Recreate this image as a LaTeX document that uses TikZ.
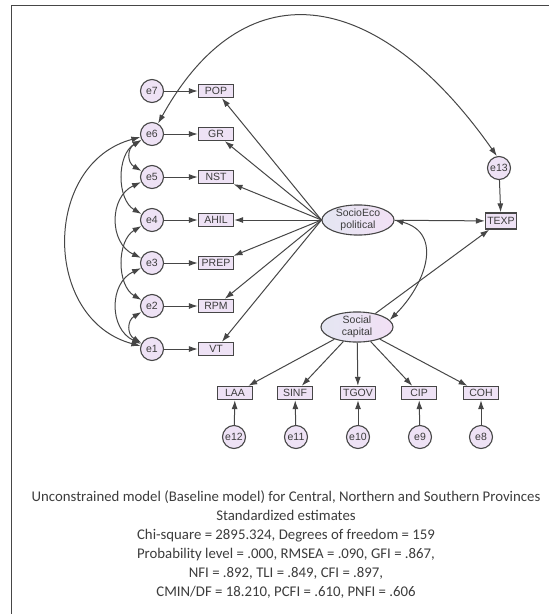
\documentclass[tikz,border=0pt]{standalone}
\usepackage{fontspec}
\setmainfont{Liberation Sans}
\newfontfamily\capfont{Carlito}
\usetikzlibrary{arrows.meta,shapes.geometric}

\definecolor{boxfill}{RGB}{238,226,245}
\definecolor{ovalleft}{RGB}{228,230,242}
\definecolor{ovalright}{RGB}{242,224,245}
\definecolor{linegray}{RGB}{70,70,70}
\definecolor{textgray}{RGB}{60,60,60}

\begin{document}
\begin{tikzpicture}[x=1pt, y=1pt, >={Latex[length=9pt,width=6pt]},
    obs/.style={draw=linegray, line width=1.3pt, fill=boxfill, minimum width=35pt,
      minimum height=13pt, inner sep=0.5pt, text=textgray, font=\fontsize{10.5}{11}\selectfont},
    err/.style={circle, draw=linegray, line width=1.1pt, fill=boxfill, minimum size=23pt,
      inner sep=0pt, text=textgray, font=\fontsize{10.5}{11}\selectfont},
    lat/.style={ellipse, draw=linegray, line width=1.1pt, left color=ovalleft, right color=ovalright,
      minimum width=72pt, minimum height=29pt, inner sep=0pt, align=center, text=textgray,
      font=\fontsize{10.5}{11.5}\selectfont},
    path/.style={->, draw=linegray, line width=1pt},
    cov/.style={<->, draw=linegray, line width=1pt}]
    \useasboundingbox (0,0) rectangle (549,-614);

    % rahmen
    \draw[linegray, line width=1pt] (11,-614) -- (11,-5) -- (549,-5);

    % linke seite: fehler und indikatoren
    \node[err] (e7) at (152,-91) {e7};
    \node[err] (e6) at (152,-134) {e6};
    \node[err] (e5) at (152,-177) {e5};
    \node[err] (e4) at (152,-220) {e4};
    \node[err] (e3) at (152,-263) {e3};
    \node[err] (e2) at (152,-306) {e2};
    \node[err] (e1) at (152,-349) {e1};

    \node[obs] (POP) at (216,-91) {POP};
    \node[obs] (GR) at (216,-134) {GR};
    \node[obs] (NST) at (216,-177) {NST};
    \node[obs] (AHIL) at (216,-220) {AHIL};
    \node[obs] (PREP) at (216,-263) {PREP};
    \node[obs] (RPM) at (216,-306) {RPM};
    \node[obs] (VT) at (216,-349) {VT};

    % latente variablen
    \node[lat] (soc) at (358,-220) {SocioEco\\political};
    \node[lat] (scap) at (357,-327) {Social\\capital};

    % abhaengige variable
    \node[err] (e13) at (499,-168) {e13};
    \node[obs, minimum width=31pt, minimum height=16pt] (TEXP) at (501,-221) {TEXP};

    % untere reihe
    \node[obs] (LAA) at (235,-393) {LAA};
    \node[obs] (SINF) at (295,-393) {SINF};
    \node[obs] (TGOV) at (358,-393) {TGOV};
    \node[obs] (CIP) at (419,-393) {CIP};
    \node[obs] (COH) at (481,-393) {COH};

    \node[err] (e12) at (234,-437) {e12};
    \node[err] (e11) at (296,-437) {e11};
    \node[err] (e10) at (358,-437) {e10};
    \node[err] (e9) at (420,-437) {e9};
    \node[err] (e8) at (481,-437) {e8};

    % fehlerpfeile
    \foreach \e/\v in {e7/POP, e6/GR, e5/NST, e4/AHIL, e3/PREP, e2/RPM, e1/VT,
                       e12/LAA, e11/SINF, e10/TGOV, e9/CIP, e8/COH, e13/TEXP}
      \draw[path] (\e) -- (\v);

    % ladungen
    \foreach \v in {POP, GR, NST, AHIL, PREP, RPM, VT}
      \draw[path] (soc.west) -- (\v);
    \foreach \v in {LAA, SINF, TGOV, CIP, COH}
      \draw[path] (scap) -- (\v);

    % strukturpfade
    \draw[path] (soc) -- (TEXP);
    \draw[path] (scap) -- (TEXP);

    % kovarianzen
    \draw[cov] (soc.east) to[out=-15, in=45, looseness=1.3] (scap.12);
    \draw[cov] (e6.60) .. controls +(90,162) and +(-115,164) .. (e13.100);
    \draw[cov] (e6) to[bend right=60, looseness=1.4] (e5);
    \draw[cov] (e6) to[bend right=60] (e4);
    \draw[cov] (e5) to[bend right=65, looseness=1.2] (e3);
    \draw[cov] (e4) to[bend right=60] (e2);
    \draw[cov] (e3) to[bend right=65, looseness=1.2] (e1);
    \draw[cov] (e2) to[bend right=60, looseness=1.4] (e1);
    \draw[cov] (e6) to[bend right=75, looseness=1.25] (e1);

    % beschriftung
    \node[align=center, font=\capfont\fontsize{14.8}{19}\selectfont, text=textgray] (caption) at (286,-545)
      {Unconstrained model (Baseline model) for Central, Northern and Southern Provinces\\
       Standardized estimates\\
       Chi-square = 2895.324, Degrees of freedom = 159\\
       Probability level = .000, RMSEA = .090, GFI = .867,\\
       NFI = .892, TLI = .849, CFI = .897,\\
       CMIN/DF = 18.210, PCFI = .610, PNFI = .606};
\end{tikzpicture}
\end{document}
